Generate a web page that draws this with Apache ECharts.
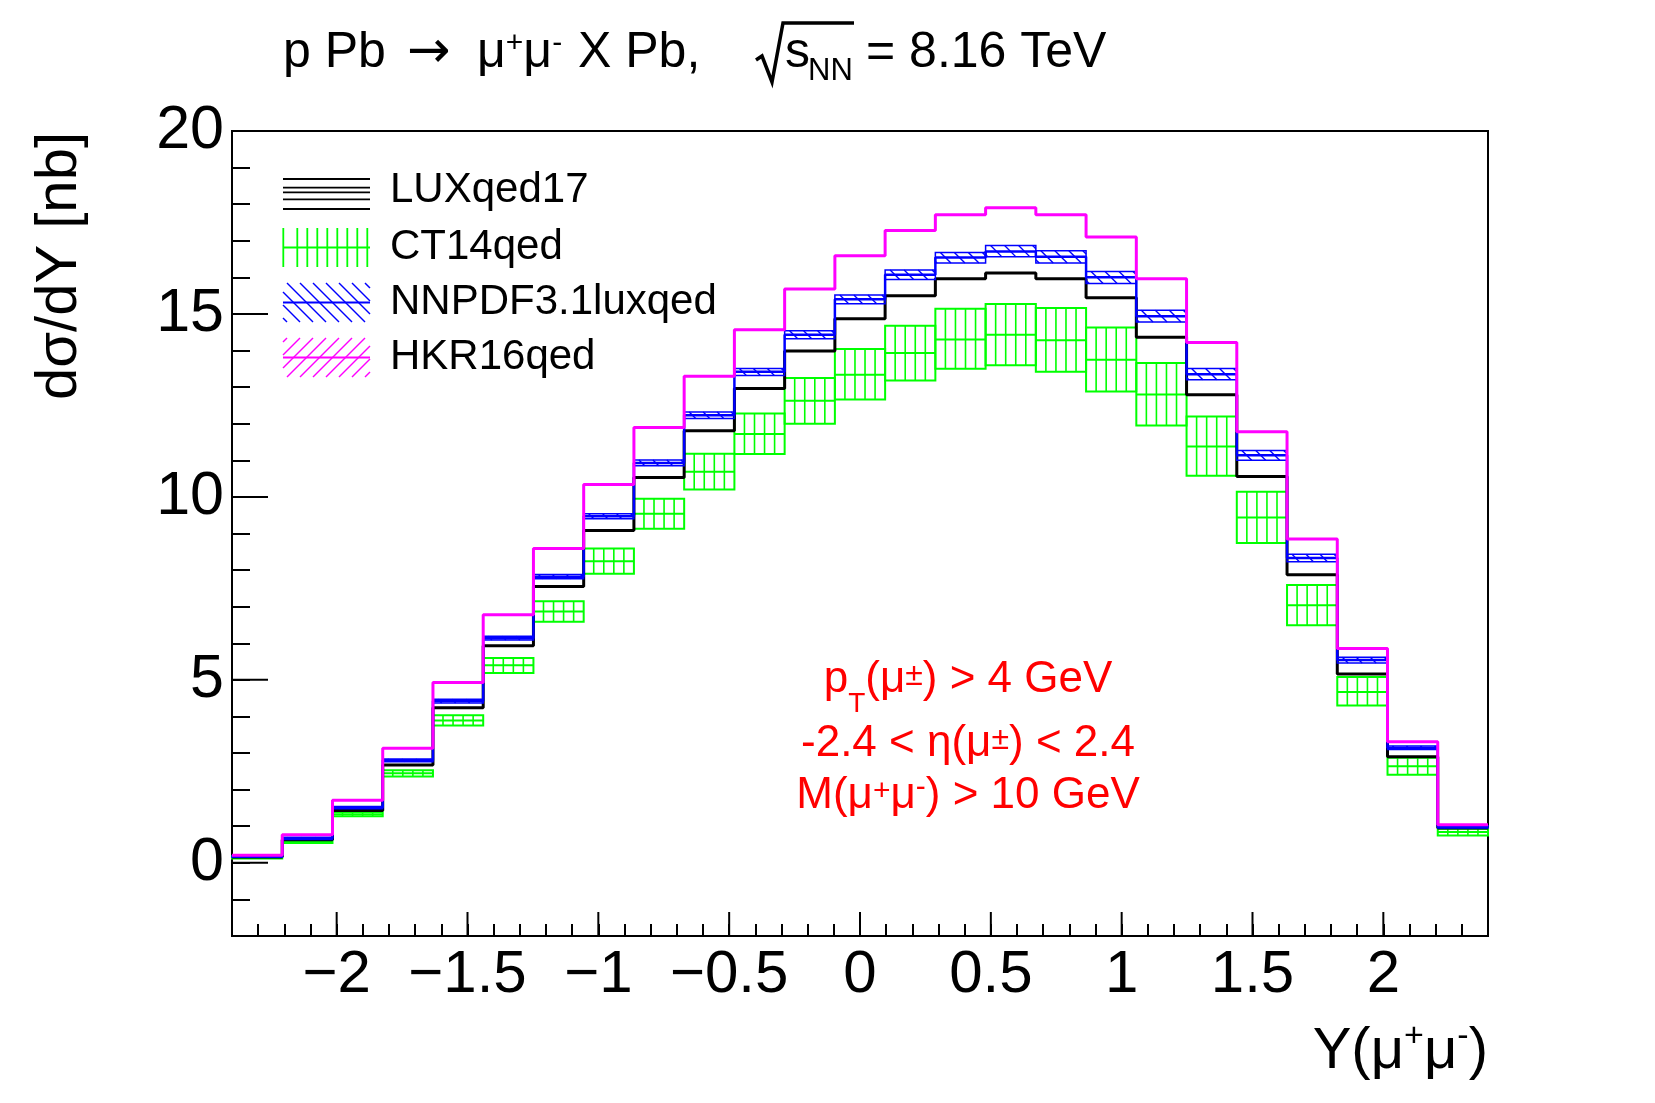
<!DOCTYPE html>
<html><head><meta charset="utf-8">
<script src="https://cdn.jsdelivr.net/npm/echarts@6/dist/echarts.min.js"></script>
<style>html,body{margin:0;padding:0;background:#fff}#c{width:1655px;height:1103px}</style>
</head><body><div id="c"></div>
<script>
const FONT = '"Liberation Sans", Arial, Helvetica, sans-serif';

// ---- data ----
const binEdges = [-2.4,-2.208,-2.016,-1.824,-1.632,-1.44,-1.248,-1.056,-0.864,-0.672,-0.48,-0.288,-0.096,0.096,0.288,0.48,0.672,0.864,1.056,1.248,1.44,1.632,1.824,2.016,2.208,2.4];
const xMajorTicks = [-2,-1.5,-1,-0.5,0,0.5,1,1.5,2];
const yMajorTicks = [0,5,10,15,20];
const seriesNames = ['LUXqed17','CT14qed','NNPDF3.1luxqed','HKR16qed'];

const hkr16qed = [0.21,0.77,1.71,3.13,4.93,6.78,8.59,10.34,11.90,13.30,14.57,15.68,16.59,17.28,17.71,17.90,17.71,17.10,15.96,14.22,11.78,8.85,5.86,3.31,1.04];
const nnpdf     = [0.17,0.67,1.51,2.80,4.42,6.14,7.82,9.47,10.93,12.23,13.42,14.43,15.40,16.07,16.54,16.71,16.56,16.00,14.94,13.35,11.14,8.33,5.54,3.14,0.98];
const nnpdfLow  = [0.15,0.64,1.48,2.76,4.37,6.09,7.76,9.40,10.85,12.14,13.32,14.32,15.28,15.94,16.39,16.56,16.39,15.83,14.78,13.20,11.00,8.23,5.46,3.10,0.95];
const nnpdfHigh = [0.19,0.70,1.54,2.84,4.47,6.19,7.88,9.54,11.01,12.32,13.51,14.54,15.52,16.20,16.68,16.87,16.73,16.16,15.10,13.51,11.27,8.43,5.62,3.19,1.01];
const lux       = [0.16,0.63,1.43,2.67,4.24,5.93,7.55,9.08,10.53,11.81,12.96,13.99,14.87,15.50,15.96,16.12,15.96,15.44,14.36,12.79,10.56,7.87,5.16,2.90,0.95];
const ct14      = [0.15,0.58,1.33,2.45,3.89,5.40,6.87,8.24,9.54,10.69,11.72,12.63,13.34,13.93,14.30,14.43,14.28,13.75,12.80,11.38,9.44,7.04,4.67,2.64,0.84];
const ct14Low   = [0.12,0.54,1.27,2.36,3.75,5.19,6.59,7.90,9.13,10.20,11.17,12.00,12.66,13.18,13.50,13.60,13.42,12.88,11.95,10.58,8.74,6.49,4.30,2.41,0.75];
const ct14High  = [0.18,0.62,1.39,2.53,4.03,5.60,7.15,8.59,9.95,11.18,12.28,13.25,14.04,14.68,15.14,15.27,15.16,14.63,13.66,12.20,10.14,7.59,5.08,2.87,0.93];

// ---- helpers ----
const GREEN = '#00ff00', BLUE = '#0000ff', MAG = '#ff00ff', BLACK = '#000000', RED = '#ff0000';

function stepPoints(vals) {
  const pts = [];
  vals.forEach((v, i) => { pts.push([binEdges[i], v]); pts.push([binEdges[i + 1], v]); });
  return pts;
}

function diagSegs(x0, yt, x1, yb, step, dir, start) {
  const h = yb - yt, segs = [];
  if (h <= 0.5) return segs;
  let s = start;
  while (s > x0 - h) s -= step;
  for (; s < x1; s += step) {
    const t0 = Math.max(0, (x0 - s) / h), t1 = Math.min(1, (x1 - s) / h);
    if (t1 <= t0) continue;
    const xa = s + t0 * h, xb = s + t1 * h;
    let ya, yb2;
    if (dir > 0) { ya = yt + t0 * h; yb2 = yt + t1 * h; }
    else { ya = yb - t0 * h; yb2 = yb - t1 * h; }
    segs.push([xa, ya, xb, yb2]);
  }
  return segs;
}

function bandSeries(name, low, high, mid, color, kind, z) {
  return {
    type: 'custom', name: name, z: z, silent: true,
    data: low.map((l, i) => [binEdges[i], binEdges[i + 1], l, high[i], mid[i]]),
    encode: { x: [0, 1], y: [2, 3] },
    renderItem: function (params, api) {
      const a = api.coord([api.value(0), api.value(3)]);
      const b = api.coord([api.value(1), api.value(2)]);
      const cy = api.coord([api.value(0), api.value(4)])[1];
      const x0 = a[0], x1 = b[0], yt = a[1], yb = b[1];
      const ch = [];
      if (kind === 'vert') {
        const n = 5;
        for (let k = 1; k < n; k++) {
          const x = x0 + k * (x1 - x0) / n;
          ch.push({ type: 'line', shape: { x1: x, y1: yt, x2: x, y2: yb }, style: { stroke: color, lineWidth: 1.6 } });
        }
        ch.push({ type: 'rect', shape: { x: x0, y: yt, width: x1 - x0, height: yb - yt }, style: { fill: 'none', stroke: color, lineWidth: 2 } });
        ch.push({ type: 'line', shape: { x1: x0, y1: cy, x2: x1, y2: cy }, style: { stroke: color, lineWidth: 2 } });
      } else {
        diagSegs(x0, yt, x1, yb, 14, 1, x0 + 5).forEach(sg => {
          ch.push({ type: 'line', shape: { x1: sg[0], y1: sg[1], x2: sg[2], y2: sg[3] }, style: { stroke: color, lineWidth: 1.4 } });
        });
        ch.push({ type: 'rect', shape: { x: x0, y: yt, width: x1 - x0, height: yb - yt }, style: { fill: 'none', stroke: color, lineWidth: 1.5 } });
      }
      return { type: 'group', children: ch };
    }
  };
}

function lineSeries(name, vals, color, width, z) {
  return {
    type: 'line', name: name, z: z, data: stepPoints(vals), showSymbol: false, symbol: 'none',
    silent: true, lineStyle: { color: color, width: width }, itemStyle: { color: color }
  };
}

function fmtX(v) {
  const r = Math.round(v * 2);
  if (Math.abs(v * 2 - r) > 1e-6) return '';
  const val = r / 2;
  if (val === 0) return '0';
  return (val < 0 ? '\u2212' : '') + Math.abs(val);
}
function fmtY(v) {
  const r = Math.round(v);
  if (Math.abs(v - r) > 1e-6 || r % 5 !== 0) return '';
  return String(r);
}

// ---- graphics (text, legend) ----
const graphics = [];
function txt(x, y, text, size, align, color, rich, fam) {
  const f = fam || FONT;
  const el = {
    type: 'text', x: x, y: y, silent: true,
    style: { text: text, fill: color || BLACK, font: size + 'px ' + f,
             fontSize: size, fontFamily: f,
             align: align || 'left', verticalAlign: 'middle',
             textAlign: align || 'left', textVerticalAlign: 'middle' }
  };
  if (rich) el.style.rich = rich;
  graphics.push(el);
}

// title
const titleRich = {
  n: { fontSize: 50, fontFamily: FONT, fill: BLACK, color: BLACK },
  sup: { fontSize: 30, fontFamily: FONT, fill: BLACK, color: BLACK, padding: [0, 0, 18, 0] }
};
txt(283, 53, 'p Pb', 50);
txt(407, 53, '\u2192', 52, 'left', BLACK, null, '"DejaVu Sans", sans-serif');
txt(477, 53, '{n|\u03bc}{sup|+}{n|\u03bc}{sup|-}', 50, 'left', BLACK, titleRich);
txt(578, 53, 'X Pb,', 50);
graphics.push({ type: 'polyline', silent: true, shape: { points: [[756, 60], [762, 56], [772, 82], [783, 23], [854, 23]] }, style: { stroke: BLACK, lineWidth: 3.5, fill: 'none' } });
txt(785, 53, 's', 50);
txt(808, 71, 'NN', 31);
txt(866, 53, '= 8.16 TeV', 50);

// y axis title
graphics.push({ type: 'text', x: 60, y: 132, rotation: Math.PI / 2, silent: true,
  style: { text: 'd\u03c3/dY [nb]', fill: BLACK, font: '58px ' + FONT, align: 'right', verticalAlign: 'middle', textAlign: 'right', textVerticalAlign: 'middle' } });

// x axis title
const axRich = {
  n: { fontSize: 58, fontFamily: FONT, fill: BLACK, color: BLACK },
  sup: { fontSize: 34, fontFamily: FONT, fill: BLACK, color: BLACK, padding: [0, 0, 30, 0] }
};
txt(1488, 1052, '{n|Y(\u03bc}{sup|+}{n|\u03bc}{sup|-}{n|)}', 58, 'right', BLACK, axRich);

// red cuts text
const redRich = {
  n: { fontSize: 44, fontFamily: FONT, fill: RED, color: RED },
  sup: { fontSize: 32, fontFamily: FONT, fill: RED, color: RED, padding: [0, 0, 8, 0] },
  supp: { fontSize: 30, fontFamily: FONT, fill: RED, color: RED, padding: [0, 0, 8, 0] },
  supm: { fontSize: 30, fontFamily: FONT, fill: RED, color: RED, padding: [0, 0, 16, 0] },
  sub: { fontSize: 28, fontFamily: FONT, fill: RED, color: RED, padding: [48, 0, 0, 0] }
};
txt(968, 680, '{n|p}{sub|T}{n|(\u03bc}{sup|\u00b1}{n|) > 4 GeV}', 44, 'center', RED, redRich);
txt(968, 744, '{n|-2.4 < \u03b7(\u03bc}{sup|\u00b1}{n|) < 2.4}', 44, 'center', RED, redRich);
txt(968, 796, '{n|M(\u03bc}{supp|+}{n|\u03bc}{supm|-}{n|) > 10 GeV}', 44, 'center', RED, redRich);

// legend
function lseg(x1, y1, x2, y2, color, w) {
  graphics.push({ type: 'line', silent: true, shape: { x1: x1, y1: y1, x2: x2, y2: y2 }, style: { stroke: color, lineWidth: w } });
}
const LX0 = 283, LX1 = 370;
[179, 187.7, 192.3, 199.3, 209].forEach(y => lseg(LX0, y, LX1, y, BLACK, 1.8));
[283.3, 297.3, 307.3, 317.3, 327.3, 337.3, 347.3, 357.3, 367.3].forEach(x => lseg(x, 228, x, 267, GREEN, 1.8));
lseg(LX0, 247.5, LX1, 247.5, GREEN, 2);
diagSegs(LX0, 283, LX1, 322, 13, 1, 287).forEach(s => lseg(s[0], s[1], s[2], s[3], BLUE, 1.5));
lseg(LX0, 302.5, LX1, 302.5, BLUE, 2);
diagSegs(LX0, 338, LX1, 377, 13, -1, 287).forEach(s => lseg(s[0], s[1], s[2], s[3], MAG, 1.5));
lseg(LX0, 357.5, LX1, 357.5, MAG, 2);
[190, 247, 302, 357].forEach((y, i) => txt(390, y, seriesNames[i], 42));

// ---- chart ----
const chart = echarts.init(document.getElementById('c'), null, { renderer: 'canvas' });
const option = {
  animation: false,
  backgroundColor: '#ffffff',
  grid: { left: 232, right: 167, top: 131, bottom: 167, show: true, borderColor: BLACK, borderWidth: 2, backgroundColor: 'transparent' },
  xAxis: {
    type: 'value', min: -2.4, max: 2.4, interval: 0.1,
    axisLine: { show: true, onZero: false, lineStyle: { color: BLACK, width: 2 } },
    axisTick: { show: true, inside: true, length: 12, lineStyle: { color: BLACK, width: 2 } },
    axisLabel: { show: true, formatter: fmtX, fontSize: 60, fontFamily: FONT, color: BLACK, margin: 9, hideOverlap: false },
    splitLine: { show: false }
  },
  yAxis: {
    type: 'value', min: -2, max: 20, interval: 1,
    axisLine: { show: true, onZero: false, lineStyle: { color: BLACK, width: 2 } },
    axisTick: { show: true, inside: true, length: 18, lineStyle: { color: BLACK, width: 2 } },
    axisLabel: { show: true, formatter: fmtY, fontSize: 61, fontFamily: FONT, color: BLACK, margin: 8, hideOverlap: false },
    splitLine: { show: false }
  },
  series: [
    {
      type: 'custom', name: 'xmajor', silent: true, z: 1,
      data: xMajorTicks.map(v => [v, -2]), encode: { x: 0, y: 1 },
      renderItem: function (p, api) {
        const pt = api.coord([api.value(0), api.value(1)]);
        return { type: 'line', shape: { x1: pt[0], y1: pt[1], x2: pt[0], y2: pt[1] - 24 }, style: { stroke: BLACK, lineWidth: 2 } };
      }
    },
    {
      type: 'custom', name: 'ymajor', silent: true, z: 1,
      data: yMajorTicks.map(v => [-2.4, v]), encode: { x: 0, y: 1 },
      renderItem: function (p, api) {
        const pt = api.coord([api.value(0), api.value(1)]);
        return { type: 'line', shape: { x1: pt[0], y1: pt[1], x2: pt[0] + 36, y2: pt[1] }, style: { stroke: BLACK, lineWidth: 2 } };
      }
    },
    bandSeries('CT14qed', ct14Low, ct14High, ct14, GREEN, 'vert', 2),
    lineSeries('LUXqed17', lux, BLACK, 3, 3),
    bandSeries('NNPDF3.1luxqed', nnpdfLow, nnpdfHigh, nnpdf, BLUE, 'diag', 4),
    lineSeries('NNPDF3.1luxqed', nnpdf, BLUE, 2.5, 5),
    lineSeries('HKR16qed', hkr16qed, MAG, 3, 6)
  ],
  graphic: { elements: graphics }
};
chart.setOption(option);
</script>
</body></html>
